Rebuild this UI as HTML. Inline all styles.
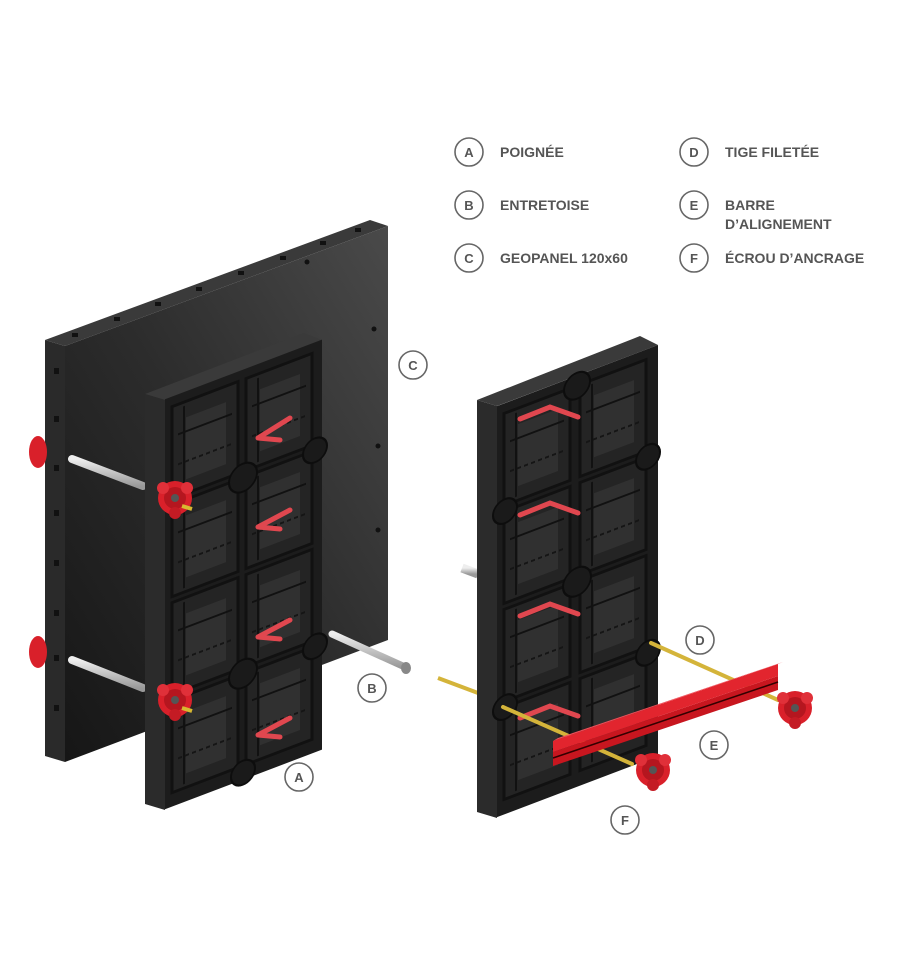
<!DOCTYPE html>
<html><head><meta charset="utf-8"><style>
html,body{margin:0;padding:0;background:#fff;}
svg{display:block;}
.lt{font-family:"Liberation Sans",sans-serif;font-weight:bold;font-size:14px;fill:#555;}
.cl{font-family:"Liberation Sans",sans-serif;font-weight:bold;font-size:13px;fill:#555;text-anchor:middle;}
</style></head><body>
<svg width="900" height="962" viewBox="0 0 900 962" xmlns="http://www.w3.org/2000/svg">
<defs>
<linearGradient id="gC" x1="0" y1="1" x2="1" y2="0">
<stop offset="0" stop-color="#161616"/><stop offset="0.5" stop-color="#2c2c2c"/><stop offset="1" stop-color="#4a4a4a"/>
</linearGradient>
<linearGradient id="rod" x1="0" y1="0" x2="0" y2="1">
<stop offset="0" stop-color="#eee"/><stop offset="1" stop-color="#999"/>
</linearGradient>
<g id="cell">
<rect x="0" y="0" width="66" height="92" fill="#242424" stroke="#111" stroke-width="3"/>
<rect x="14" y="16" width="40" height="62" fill="#303030"/>
<line x1="6" y1="30" x2="60" y2="30" stroke="#111" stroke-width="2"/>
<line x1="12" y1="4" x2="12" y2="88" stroke="#111" stroke-width="2"/>
<line x1="6" y1="60" x2="60" y2="60" stroke="#151515" stroke-width="2" stroke-dasharray="4 3"/>
</g>
<g id="nut">
<circle r="17" fill="#d9202a"/>
<circle r="11" fill="#b5161f"/>
<circle cx="-12" cy="-10" r="6" fill="#e03039"/>
<circle cx="12" cy="-10" r="6" fill="#e03039"/>
<circle cx="0" cy="15" r="6" fill="#c41b24"/>
<circle r="4" fill="#555"/>
</g>
</defs>

<!-- Big panel C -->
<polygon points="45,340 65,346 388,226 370,220" fill="#3a3a3a"/>
<polygon points="45,340 65,346 65,762 45,756" fill="#2a2a2a"/>
<polygon points="65,346 388,226 388,640 65,762" fill="url(#gC)"/>
<g fill="#111">
<circle cx="374" cy="329" r="2.5"/><circle cx="378" cy="446" r="2.5"/><circle cx="378" cy="530" r="2.5"/><circle cx="307" cy="262" r="2.5"/>
<rect x="54" y="368" width="5" height="6"/><rect x="54" y="416" width="5" height="6"/><rect x="54" y="465" width="5" height="6"/><rect x="54" y="510" width="5" height="6"/><rect x="54" y="560" width="5" height="6"/><rect x="54" y="610" width="5" height="6"/><rect x="54" y="655" width="5" height="6"/><rect x="54" y="705" width="5" height="6"/>
<rect x="72" y="333" width="6" height="4"/><rect x="114" y="317" width="6" height="4"/><rect x="155" y="302" width="6" height="4"/><rect x="196" y="287" width="6" height="4"/><rect x="238" y="271" width="6" height="4"/><rect x="280" y="256" width="6" height="4"/><rect x="320" y="241" width="6" height="4"/><rect x="355" y="228" width="6" height="4"/>
</g>
<!-- left nuts of C -->
<ellipse cx="38" cy="452" rx="9" ry="16" fill="#d9202a"/>
<ellipse cx="38" cy="652" rx="9" ry="16" fill="#d9202a"/>

<!-- rods through A -->
<line x1="72" y1="459" x2="143" y2="486" stroke="url(#rod)" stroke-width="8" stroke-linecap="round"/>
<line x1="72" y1="660" x2="143" y2="688" stroke="url(#rod)" stroke-width="8" stroke-linecap="round"/>

<!-- Panel A -->
<polygon points="145,394 165,400 322,340 304,333" fill="#3a3a3a"/>
<polygon points="145,394 165,400 165,810 145,804" fill="#2b2b2b"/>
<g transform="matrix(1,-0.38,0,1,0,0)">
<rect x="165" y="462" width="157" height="410" fill="#1c1c1c"/>
<use href="#cell" x="172" y="472"/><use href="#cell" x="246" y="472"/>
<use href="#cell" x="172" y="570"/><use href="#cell" x="246" y="570"/>
<use href="#cell" x="172" y="668"/><use href="#cell" x="246" y="668"/>
<use href="#cell" x="172" y="766"/><use href="#cell" x="246" y="766"/>
<g fill="#1a1a1a" stroke="#0d0d0d" stroke-width="2">
<circle cx="243" cy="570" r="14"/><circle cx="243" cy="766" r="14"/><circle cx="315" cy="570" r="12"/><circle cx="315" cy="766" r="12"/><circle cx="243" cy="865" r="12"/>
</g>
</g>
<!-- red handles A -->
<g stroke="#e0474f" stroke-width="5" stroke-linecap="round" fill="none">
<path d="M258,438 L290,418 M258,438 L280,440"/>
<path d="M258,527 L290,510 M258,527 L280,529"/>
<path d="M258,637 L290,620 M258,637 L280,639"/>
<path d="M258,735 L290,718 M258,735 L280,737"/>
</g>
<use href="#nut" x="175" y="498"/>
<use href="#nut" x="175" y="700"/>
<line x1="182" y1="506" x2="192" y2="509" stroke="#d8b830" stroke-width="4"/>
<line x1="182" y1="708" x2="192" y2="711" stroke="#d8b830" stroke-width="4"/>

<!-- rod B -->
<line x1="332" y1="634" x2="405" y2="667" stroke="url(#rod)" stroke-width="7" stroke-linecap="round"/>
<ellipse cx="406" cy="668" rx="5" ry="6" fill="#888"/>

<!-- Right panel -->
<line x1="462" y1="568" x2="478" y2="574" stroke="url(#rod)" stroke-width="9"/>
<line x1="438" y1="678" x2="478" y2="693" stroke="#d4b43a" stroke-width="4"/>
<polygon points="477,400 497,406 658,345 640,336" fill="#3a3a3a"/>
<polygon points="477,400 497,406 497,818 477,812" fill="#2b2b2b"/>
<g transform="matrix(1,-0.38,0,1,0,0)">
<rect x="497" y="595" width="161" height="411" fill="#1c1c1c"/>
<use href="#cell" x="504" y="605"/><use href="#cell" x="580" y="605"/>
<use href="#cell" x="504" y="703"/><use href="#cell" x="580" y="703"/>
<use href="#cell" x="504" y="801"/><use href="#cell" x="580" y="801"/>
<use href="#cell" x="504" y="899"/><use href="#cell" x="580" y="899"/>
<g fill="#1a1a1a" stroke="#0d0d0d" stroke-width="2">
<circle cx="577" cy="605" r="13"/><circle cx="577" cy="801" r="14"/><circle cx="505" cy="703" r="12"/><circle cx="648" cy="703" r="12"/><circle cx="648" cy="899" r="12"/><circle cx="505" cy="899" r="12"/>
</g>
</g>
<g stroke="#e0474f" stroke-width="5" stroke-linecap="round" fill="none">
<path d="M520,419 L550,407 L578,417"/>
<path d="M520,515 L550,503 L578,513"/>
<path d="M520,616 L550,604 L578,614"/>
<path d="M520,718 L550,706 L578,716"/>
</g>
<!-- rods D -->
<line x1="651" y1="643" x2="778" y2="700" stroke="#d4b43a" stroke-width="4" stroke-linecap="round"/>
<line x1="503" y1="707" x2="632" y2="764" stroke="#d4b43a" stroke-width="4" stroke-linecap="round"/>
<!-- Bar E -->
<polygon points="553,752 778,676 778,690 553,766" fill="#c8161f"/>
<polygon points="553,741 778,664 778,676 553,752" fill="#e2252e"/>
<polygon points="553,741 558,738 783,662 778,664" fill="#f0505a"/>
<line x1="553" y1="758" x2="778" y2="682" stroke="#300" stroke-width="1.5"/>
<!-- nuts F -->
<use href="#nut" x="653" y="770"/>
<use href="#nut" x="795" y="708"/>

<!-- callouts -->
<g fill="#fff" stroke="#666" stroke-width="1.6">
<circle cx="413" cy="365" r="14"/><circle cx="372" cy="688" r="14"/><circle cx="299" cy="777" r="14"/>
<circle cx="700" cy="640" r="14"/><circle cx="714" cy="745" r="14"/><circle cx="625" cy="820" r="14"/>
<circle cx="469" cy="152" r="14"/><circle cx="469" cy="205" r="14"/><circle cx="469" cy="258" r="14"/>
<circle cx="694" cy="152" r="14"/><circle cx="694" cy="205" r="14"/><circle cx="694" cy="258" r="14"/>
</g>
<text class="cl" x="413" y="370">C</text><text class="cl" x="372" y="693">B</text><text class="cl" x="299" y="782">A</text>
<text class="cl" x="700" y="645">D</text><text class="cl" x="714" y="750">E</text><text class="cl" x="625" y="825">F</text>
<text class="cl" x="469" y="157">A</text><text class="cl" x="469" y="210">B</text><text class="cl" x="469" y="263">C</text>
<text class="cl" x="694" y="157">D</text><text class="cl" x="694" y="210">E</text><text class="cl" x="694" y="263">F</text>
<text class="lt" x="500" y="157">POIGNÉE</text>
<text class="lt" x="500" y="210">ENTRETOISE</text>
<text class="lt" x="500" y="263">GEOPANEL 120x60</text>
<text class="lt" x="725" y="157">TIGE FILETÉE</text>
<text class="lt" x="725" y="210">BARRE</text>
<text class="lt" x="725" y="229">D’ALIGNEMENT</text>
<text class="lt" x="725" y="263">ÉCROU D’ANCRAGE</text>
</svg>
</body></html>
